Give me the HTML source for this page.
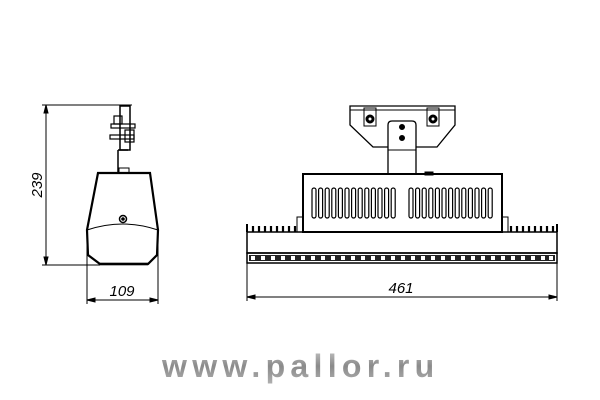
<!DOCTYPE html>
<html><head><meta charset="utf-8"><style>
html,body{margin:0;padding:0;background:#fff;width:600px;height:400px;overflow:hidden}
</style></head><body>
<svg width="600" height="400" viewBox="0 0 600 400" xmlns="http://www.w3.org/2000/svg">
<defs>
<linearGradient id="g" x1="0" y1="0" x2="0" y2="1">
<stop offset="0" stop-color="#c8c8c8"/><stop offset="0.5" stop-color="#8a8a8a"/><stop offset="1" stop-color="#b0b0b0"/>
</linearGradient>
</defs>
<g fill="none" stroke="#000" stroke-width="1">
<line x1="46" y1="105" x2="46" y2="265"/>
<line x1="42" y1="105" x2="132" y2="105"/>
<line x1="42" y1="265" x2="100" y2="265"/>
<path d="M46 105 l-2 8 l4 0 z M46 265 l-2 -8 l4 0 z" fill="#000"/>
<line x1="87" y1="232" x2="87" y2="304"/>
<line x1="158" y1="232" x2="158" y2="304"/>
<line x1="87" y1="300" x2="158" y2="300"/>
<path d="M87 300 l8 -2 l0 4 z M158 300 l-8 -2 l0 4 z" fill="#000"/>
<line x1="118" y1="150" x2="118" y2="172" stroke-width="1.5"/>
<line x1="118" y1="150" x2="128" y2="150" stroke-width="1.5"/>
<rect x="120" y="106" width="10" height="44" stroke-width="1.5"/>
<rect x="114" y="116" width="8" height="8" stroke-width="1.2"/>
<rect x="111" y="124" width="24" height="4" stroke-width="1.2"/>
<rect x="110" y="135" width="24" height="4" stroke-width="1.2"/>
<rect x="125" y="130" width="9" height="12" stroke-width="1.2"/>
<rect x="119" y="168" width="10" height="5"/>
<path d="M98 173 L150 173 L158 230 L157 255 L148 264 L100 264 L88 255 L87 230 Z" stroke-width="2.2"/>
<path d="M87 230 Q123 218 158 230"/>
<line x1="100" y1="264" x2="148" y2="264" stroke-width="2.5"/>
<circle cx="123" cy="219" r="3.5" stroke-width="1.5"/>
<circle cx="123" cy="219" r="1.3" fill="#000"/>
<path d="M350 106 L455 106 L455 125 L437 147 L373 147 L350 125 Z" stroke-width="1.3"/>
<line x1="350" y1="110" x2="455" y2="110"/>
<rect x="364" y="108" width="12" height="18"/>
<rect x="427" y="108" width="12" height="18"/>
<circle cx="370" cy="119" r="4" fill="#000"/>
<circle cx="370" cy="119" r="1.5" fill="#fff" stroke="none"/>
<circle cx="433" cy="119" r="4" fill="#000"/>
<circle cx="433" cy="119" r="1.5" fill="#fff" stroke="none"/>
<path d="M388 173 L388 125 Q388 121 392 121 L412 121 Q416 121 416 125 L416 173" fill="#fff" stroke-width="1.3"/>
<line x1="388" y1="150" x2="416" y2="150"/>
<circle cx="402" cy="127" r="2.5" fill="#000"/>
<circle cx="402" cy="138" r="2.5" fill="#000"/>
<rect x="303" y="174" width="199" height="58" stroke-width="2"/>
<rect x="425" y="172" width="8" height="3" fill="#000"/>
<rect x="297" y="217" width="6" height="15"/>
<rect x="502" y="217" width="6" height="15"/>
<rect x="247" y="232" width="310" height="21" stroke-width="1.5"/>
<rect x="247" y="253" width="310" height="10" stroke-width="1.5"/>
<line x1="247" y1="224" x2="247" y2="232" stroke-width="2"/>
<line x1="557" y1="224" x2="557" y2="232" stroke-width="2"/>
</g>
<g stroke="#000" stroke-width="2.2">
<line x1="253" y1="226" x2="253" y2="232"/><line x1="259" y1="226" x2="259" y2="232"/>
<line x1="265" y1="226" x2="265" y2="232"/><line x1="271" y1="226" x2="271" y2="232"/>
<line x1="277" y1="226" x2="277" y2="232"/><line x1="283" y1="226" x2="283" y2="232"/>
<line x1="289" y1="226" x2="289" y2="232"/><line x1="295" y1="226" x2="295" y2="232"/>
<line x1="511" y1="226" x2="511" y2="232"/><line x1="517" y1="226" x2="517" y2="232"/>
<line x1="523" y1="226" x2="523" y2="232"/><line x1="529" y1="226" x2="529" y2="232"/>
<line x1="535" y1="226" x2="535" y2="232"/><line x1="541" y1="226" x2="541" y2="232"/>
<line x1="547" y1="226" x2="547" y2="232"/><line x1="553" y1="226" x2="553" y2="232"/>
</g>
<g fill="none" stroke="#000" stroke-width="1.2">
<rect x="312" y="188" width="4" height="30" rx="2"/><rect x="318.6" y="188" width="4" height="30" rx="2"/><rect x="325.2" y="188" width="4" height="30" rx="2"/><rect x="331.8" y="188" width="4" height="30" rx="2"/><rect x="338.4" y="188" width="4" height="30" rx="2"/><rect x="345" y="188" width="4" height="30" rx="2"/><rect x="351.6" y="188" width="4" height="30" rx="2"/><rect x="358.2" y="188" width="4" height="30" rx="2"/><rect x="364.8" y="188" width="4" height="30" rx="2"/><rect x="371.4" y="188" width="4" height="30" rx="2"/><rect x="378" y="188" width="4" height="30" rx="2"/><rect x="384.6" y="188" width="4" height="30" rx="2"/><rect x="391.2" y="188" width="4" height="30" rx="2"/>
<rect x="409" y="188" width="4" height="30" rx="2"/><rect x="415.6" y="188" width="4" height="30" rx="2"/><rect x="422.2" y="188" width="4" height="30" rx="2"/><rect x="428.8" y="188" width="4" height="30" rx="2"/><rect x="435.4" y="188" width="4" height="30" rx="2"/><rect x="442" y="188" width="4" height="30" rx="2"/><rect x="448.6" y="188" width="4" height="30" rx="2"/><rect x="455.2" y="188" width="4" height="30" rx="2"/><rect x="461.8" y="188" width="4" height="30" rx="2"/><rect x="468.4" y="188" width="4" height="30" rx="2"/><rect x="475" y="188" width="4" height="30" rx="2"/><rect x="481.6" y="188" width="4" height="30" rx="2"/><rect x="488.2" y="188" width="4" height="30" rx="2"/>
</g>
<rect x="249" y="255" width="306" height="6" fill="#222"/>
<g fill="#fff">
<rect x="251" y="256" width="4" height="4"/><rect x="261" y="256" width="4" height="4"/><rect x="271" y="256" width="4" height="4"/><rect x="281" y="256" width="4" height="4"/><rect x="291" y="256" width="4" height="4"/><rect x="301" y="256" width="4" height="4"/><rect x="311" y="256" width="4" height="4"/><rect x="321" y="256" width="4" height="4"/><rect x="331" y="256" width="4" height="4"/><rect x="341" y="256" width="4" height="4"/><rect x="351" y="256" width="4" height="4"/><rect x="361" y="256" width="4" height="4"/><rect x="371" y="256" width="4" height="4"/><rect x="381" y="256" width="4" height="4"/><rect x="391" y="256" width="4" height="4"/><rect x="401" y="256" width="4" height="4"/><rect x="411" y="256" width="4" height="4"/><rect x="421" y="256" width="4" height="4"/><rect x="431" y="256" width="4" height="4"/><rect x="441" y="256" width="4" height="4"/><rect x="451" y="256" width="4" height="4"/><rect x="461" y="256" width="4" height="4"/><rect x="471" y="256" width="4" height="4"/><rect x="481" y="256" width="4" height="4"/><rect x="491" y="256" width="4" height="4"/><rect x="501" y="256" width="4" height="4"/><rect x="511" y="256" width="4" height="4"/><rect x="521" y="256" width="4" height="4"/><rect x="531" y="256" width="4" height="4"/><rect x="541" y="256" width="4" height="4"/><rect x="549" y="256" width="4" height="4"/>
</g>
<g stroke="#000" stroke-width="1" fill="none">
<line x1="247" y1="263" x2="247" y2="301"/>
<line x1="557" y1="263" x2="557" y2="301"/>
<line x1="247" y1="297" x2="557" y2="297"/>
<path d="M247 297 l8 -2 l0 4 z M557 297 l-8 -2 l0 4 z" fill="#000"/>
</g>
<g font-family="Liberation Sans, sans-serif" font-style="italic" font-size="15" fill="#000">
<text x="122" y="296" text-anchor="middle">109</text>
<text x="401" y="293" text-anchor="middle">461</text>
<text transform="translate(42,185) rotate(-90)" text-anchor="middle">239</text>
</g>
<text x="162" y="377" font-family="Liberation Sans, sans-serif" font-weight="bold" font-size="32" letter-spacing="5.3" fill="url(#g)">www.pallor.ru</text>
</svg>
</body></html>
